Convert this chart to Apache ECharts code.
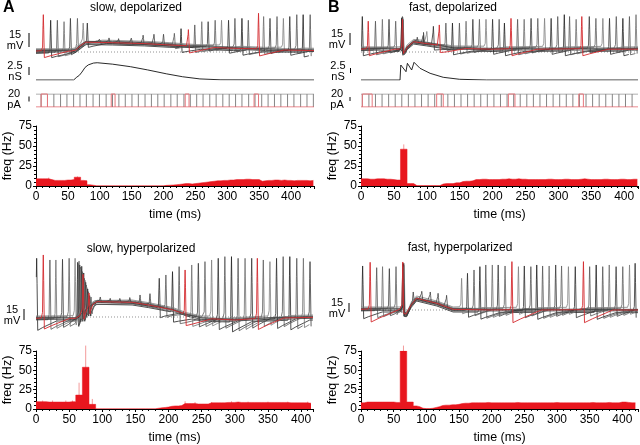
<!DOCTYPE html>
<html><head><meta charset="utf-8">
<script src="https://cdn.jsdelivr.net/npm/echarts@6/dist/echarts.min.js"></script>
<style>html,body{margin:0;padding:0;background:#fff}#c{width:640px;height:445px}</style>
</head><body><div id="c"></div><script>
// ================= DATA =================
// time-axis extents (ms)
const tMaxSD = 436, tMaxFD = 421, tMaxSH = 418, tMaxFH = 424;
const histBin = 5; // ms per histogram bin

// ---- firing-rate histograms (Hz), 5 ms bins starting at 0 ----
const histSD = [9,9,9,9,8,7,7,7,7,7.5,7.5,8,11,11,7,6.5,1.5,1,
  0.3,0.3,0.3,0.3,0.3,0.3,0.3,0.3,0.3,0.3,0.3,0.3,0.3,0.3,0.3,0.3,0.3,0.3,0.3,0.3,0.3,0.3,
  0.8,1,1.2,1.5,2,2.5,3,3,2.5,3,3.5,4,4.5,5,5.5,6,6.5,6.5,7,7,
  7.5,7.5,8,8,8,8.5,8.5,8,8,8,6,6.5,7,7,7.5,7.5,7,7.5,7,7,6.5,7,7,7,7,6.5,7];
const histFD = [9,9,8.5,8.5,9,9,9,8.5,8.5,8,7.5,7.5,46,46,3,3,0.5,0.5,0.5,0.5,0.5,0.5,0.5,0.5,
  2.5,3,3,3,4,4,5.5,6,6,6.5,
  8,8,8.5,8.5,8,8,8,8,8.5,8.5,9,8.5,8.5,9,8.5,8.5,8,8,8,8,8,8,8.5,8.5,8,8,8,8.5,8.5,8,8,8,8.5,9,8.5,8,8,8,8,8.5,8.5,8,8,8,8.5,8.5,8,8,8.5,8.5];
const histSH = [9.5,9.5,9.5,9,9,9,9,9,9,9,9.5,9.5,18,18,54,54,6,6,
  0.3,0.3,0.3,0.3,0.3,0.3,0.3,0.3,0.3,0.3,0.3,0.3,0.3,0.3,0.3,0.3,0.3,0.3,
  1,1.5,2,2.5,3.5,4,4,4.5,7,7,7,7,6.5,6.5,6.5,6.5,8,8,8,8,8,8.5,
  8.5,8.5,9,8.5,8.5,8.5,8.5,8.5,8.5,8.5,8.5,8.5,8.5,8.5,8.5,8.5,8.5,8.5,8,8,8,8,8,8,7.5];
const histFH = [8,9,9,9,9,9,9,9,9,9,8.5,8.5,75,75,9,9,4,3,1,0.5,0.5,1,2,3,4.5,5,5,5.5,5.5,6,
  7,7.5,7.5,8,8,8,8,8,8.5,8,8,8,8,8,8,8,8,8.5,8,8,8,8,8,8,8,8,8,8,8,8.5,8,8,8,8,8,8,8,8,8,8,8.5,8,8,8,8,8.5,8,8,8,9,9,8.5,8,8];
// error-bar tops [time ms, Hz]
const errSD = [[65,12],[20,10.5]];
const errFD = [[65,52]];
const errSH = [[65,34],[75,82],[85,13],[10,11],[25,11],[45,11],[55,11],[225,10],[240,9],[265,9],[295,10],[320,9.5],[350,9.5],[380,9.5],[410,9.5]];
const errFH = [[65,82]];

// ---- membrane potential: slow envelope [ms, mV re dotted line] ----
const envSD = [[0,1],[55,1],[62,2],[70,7],[78,10.5],[120,10],[170,9],[210,7.5],[250,5.5],[310,4],[360,2.5],[436,1.5]];
const envFD = [[0,3],[58,3],[61,3],[66,-1],[70,5],[80,11],[100,9],[140,4],[200,3],[421,3]];
const envSH = [[0,-2],[60,-2],[66,2],[75,10],[84,18],[92,23],[145,22],[170,18],[207,10.5],[227,3],[250,-2],[300,-4.5],[350,-2],[418,-0.5]];
const envFH = [[0,1],[60,1],[64,1],[70,-7.5],[77,8],[85,17.5],[116,10],[141,1],[200,0],[424,0]];
// spike times and peaks [ms, mV] (black/grey sweeps)
const spkSD = [[23,34],[33.5,34],[44,32.5],[54,36],[65,36],[74,31],[80.5,31],[217,20],[227.5,25],[249,29],[260,32.5],[270,32.5],[281,34],[291,34],[302,34],[312,36],[323,36],[333,34],[357,38],[367,36],[378,38],[388,36],[398,38],[409,40],[419,40],[430,40]];
const spkFD = [[2,38],[22,33],[32.5,35],[42.6,35],[52.7,33],[100,22],[110,27.5],[129,31],[139,31],[149.6,31],[159.7,33],[170,35],[180,35],[190,35],[200,35],[210,35],[218,31],[238,35],[248,35],[258.5,36],[268.7,36],[279,36],[289,36],[299,38],[309,40],[317,38],[327,35],[347,38],[357,36],[367.6,36],[377.7,36],[388,38],[398,36],[408,38],[418,40]];
const spkSH = [[1,88],[21,85.5],[30,85.5],[40,86.5],[50,88],[59,88],[186,58],[196,63],[206,68],[216,75.5],[235,78],[245,80.5],[255,83],[265,85.5],[275,88],[285,90.5],[295,90.5],[305,88],[315.5,88],[325.5,88],[343,85.5],[353,83],[363,88],[373,90.5],[383,90.5],[393.5,88],[403.5,88],[413.5,83]];
const spkFH = [[2.5,66],[24,63.5],[33,65],[43.4,62],[53.6,65],[154,47.5],[163,55],[173,60],[182,65],[191,67.5],[201,67.5],[210,67.5],[220.5,66],[241,65],[250,66],[260,65],[269,67.5],[278,66],[288,66],[298,67.5],[307,66],[317.5,65],[328,65],[350,65],[360,67.5],[370,65],[380,67.5],[390.5,65],[400.7,65],[411,67.5],[419.6,70]];
// highlighted (red) sweep spikes
const redSD = [[11.5,40],[239,24],[349,41.5]];
const redFD = [[11,33],[119,29],[228,36],[335.6,38]];
const redSH = [[11,93],[225,70.5],[334,88]];
const redFH = [[14,71.5],[231,72.5],[340.5,72.5]];
// subthreshold oscillation bumps of one sweep [ms, mV]
const oscSD = [[100,15],[115,17],[130,16],[150,17],[168,18],[185,19],[200,19]];
const oscFD = [[86,18],[95,21]];
const oscSH = [[97,30],[112,28],[127,30],[142,32],[157,33],[172,35]];
const oscFH = [[80,27],[93,28],[106,27],[118,25],[131,22]];
// synaptic event: one spike per sweep (8 grey + red) [ms, mV]
const evFD = [[62,36],[63,38],[63.5,34],[62.5,37],[64,35],[63,33],[62,36],[63.5,37],[63,35]];
const evFH = [[64,70],[65,68],[64.5,66],[65.5,70],[64,64],[66,67],[65,69],[64.5,65],[64,72]];
// burst during slow hyperpolarized event [ms, mV]
const burstSH = [[63,82],[64,80],[65,84],[66,78],[67,75],[68,72],[69,76],[70,68],[71,64],[72,66],[73,58],[74,55],[75,52],[76,48],[77,44],[78,42],[79,38],[80,36],[81,32],[83,30]];
const sweepOffsetsTop = [-2.5,-1.5,-0.5,0.5,1.5,2.5,-1,1];
const sweepOffsetsBottom = [-4,-2.5,-1,0.5,2,3.5,-1.5,1];

// ---- synaptic conductance [ms, nS] ----
const condSD = [[0,0],[59,0],[64,0.8],[68,1.3],[72,2.2],[77,3.5],[82,4.2],[90,4.7],[96,4.8],[120,4.4],[148,3.7],[175,2.8],[205,1.7],[230,0.9],[257,0.3],[290,0.05],[436,0]];
const condFD = [[0,0],[59.3,0],[60.5,7.5],[68.4,4.15],[70.5,8.35],[77,5],[80.6,8.85],[89.7,5.85],[105,3.35],[125,1.35],[150,0.35],[191,0],[421,0]];

// ---- injected current pulses (ms), amplitude (pA) ----
const pulseAmp = 50;
const pulsesSD = [8,18,28,38.5,48.5,59,69,79,89.5,99.5,110,120,130,140,150.5,160.5,171,181,191,201,211.5,221.5,232,242,252,262,272.5,282.5,293,303,313,323,333.5,343.5,354,364,374,384,394.5,404.5,415,425,435];
const pulsesFD = [2,12,22,32,42,52,62,72,82,92,102,112,122,132,142,152,162,172,182,192,202,212,222,232,242,252,262,272,282,292,302,312,322,332,342,352,362,372,382,392,402,412];
const redPulsesSD = [[8,18],[118,124],[234,240],[342,349]];
const redPulsesFD = [[2,17],[115,125],[224,234],[331,338]];

// hist axis ticks
const freqTicks = [0,25,50,75];
const timeTickStep = 50;

// ================= BUILD =================
const FONT = '"Liberation Sans", Arial, Helvetica, sans-serif';
const RED = '#e8161e', RED_TRACE = '#d42a2f', ERR = '#f39a9a';
const GREYS = ['#222','#555','#6e6e6e','#3a3a3a','#606060','#808080','#2e2e2e','#585858','#444'];

function interp(pts, t){
  if (t <= pts[0][0]) return pts[0][1];
  for (let i=1;i<pts.length;i++) if (t <= pts[i][0]) {
    const a=pts[i-1], b=pts[i]; return a[1]+(b[1]-a[1])*(t-a[0])/(b[0]-a[0]);
  }
  return pts[pts.length-1][1];
}
function buildTrace(env, off, spikes, tmax){
  const pre = 3;
  const base = tt => interp(env, tt) + off;
  const wins = spikes.map(s=>[s.t-pre, s.t+s.rec]);
  const pts = [];
  env.forEach(p=>{ if(!wins.some(w=>p[0]>w[0]&&p[0]<w[1])) pts.push([p[0], p[1]+off]); });
  spikes.forEach(s=>{
    const h = s.peak - base(s.t);
    pts.push([s.t-pre, base(s.t-pre)+0.5]);
    pts.push([s.t-1.2, base(s.t)+h*0.08+1.2]);
    pts.push([s.t-0.5, base(s.t)+h*0.7]);
    pts.push([s.t, s.peak]);
    pts.push([s.t+0.6, base(s.t)+h*0.6]);
    pts.push([s.t+1.6, base(s.t+1.6)-s.ahp]);
    pts.push([s.t+s.rec*0.3, base(s.t+s.rec*0.3)-s.ahp*0.7]);
    pts.push([s.t+s.rec, base(s.t+s.rec)]);
  });
  pts.sort((a,b)=>a[0]-b[0]);
  return pts.filter(p=>p[0]>=0 && p[0]<=tmax);
}
const mk = (list, ahp, rec) => (list||[]).map(s=>({t:s[0], peak:s[1], ahp, rec}));

const panels = [
 {letter:'A', title:'slow, depolarized', left:36, width:278, tmax:tMaxSD, env:envSD, spk:spkSD, red:redSD, osc:oscSD, ev:null, burst:null,
  offs:sweepOffsetsTop, ahp:4.5, rec:30, redAhp:7, redRec:40, vTop:10, vH:56, vMin:-15, vMax:45,
  cond:condSD, condScale:3.6, condMax:6, pulses:pulsesSD, redPulses:redPulsesSD, hist:histSD, err:errSD, hTop:126, titleX:136, titleY:8, letterY:8},
 {letter:'B', title:'fast, depolarized', left:361, width:277, tmax:tMaxFD, env:envFD, spk:spkFD, red:redFD, osc:oscFD, ev:evFD, burst:null,
  offs:sweepOffsetsTop, ahp:4.5, rec:30, redAhp:7, redRec:40, vTop:10, vH:56, vMin:-15, vMax:45,
  cond:condFD, condScale:2, condMax:11, pulses:pulsesFD, redPulses:redPulsesFD, hist:histFD, err:errFD, hTop:126, titleX:453, titleY:8, letterY:8},
 {letter:null, title:'slow, hyperpolarized', left:36, width:277, tmax:tMaxSH, env:envSH, spk:spkSH, red:redSH, osc:oscSH, ev:null, burst:burstSH,
  offs:sweepOffsetsBottom, ahp:14, rec:30, redAhp:16, redRec:40, vTop:250.3, vH:84.7, vMin:-27, vMax:100,
  cond:null, hist:histSH, err:errSH, hTop:351, titleX:141, titleY:249},
 {letter:null, title:'fast, hyperpolarized', left:361, width:277, tmax:tMaxFH, env:envFH, spk:spkFH, red:redFH, osc:oscFH, ev:evFH, burst:null,
  offs:sweepOffsetsBottom, ahp:10, rec:30, redAhp:19, redRec:45, vTop:243.3, vH:84.7, vMin:-27, vMax:100,
  cond:null, hist:histFH, err:errFH, hTop:351, titleX:460, titleY:248}
];

const grids=[], xAxes=[], yAxes=[], series=[], graphics=[];
function addGrid(left,width,top,height,xa,ya){
  grids.push({left,width,top,height});
  const gi=grids.length-1;
  xAxes.push(Object.assign({gridIndex:gi},xa));
  yAxes.push(Object.assign({gridIndex:gi},ya));
  return gi;
}
const hidX = max=>({type:'value',min:0,max,show:false});
const hidY = (min,max)=>({type:'value',min,max,show:false});
const axisCommon = {
  axisLine:{show:true,lineStyle:{color:'#000',width:1}},
  axisTick:{show:true,length:3,lineStyle:{color:'#000'}},
  minorTick:{show:true,splitNumber:5,length:2,lineStyle:{color:'#000'}},
  splitLine:{show:false},
  axisLabel:{color:'#000',fontFamily:FONT,fontSize:12}
};

panels.forEach(p=>{
  // ---- voltage sweeps ----
  const gv = addGrid(p.left,p.width,p.vTop,p.vH,hidX(p.tmax),hidY(p.vMin,p.vMax));
  series.push({type:'line',xAxisIndex:gv,yAxisIndex:gv,data:[[0,0],[p.tmax,0]],showSymbol:false,silent:true,z:1,
    lineStyle:{color:'#777',width:0.8,type:[1,2]}});
  const nS = p.offs.length;
  const sweeps = [];
  for(let k=0;k<=nS;k++) sweeps.push([]); // index nS = red
  p.spk.forEach((s,i)=>sweeps[i%nS].push({t:s[0],peak:s[1],ahp:p.ahp,rec:p.rec}));
  p.red.forEach(s=>sweeps[nS].push({t:s[0],peak:s[1],ahp:p.redAhp,rec:p.redRec}));
  if(p.ev) p.ev.forEach((s,i)=>sweeps[i].push({t:s[0],peak:s[1],ahp:p.ahp*0.6,rec:5}));
  if(p.burst) p.burst.forEach((s,i)=>sweeps[i%(nS+1)].push({t:s[0],peak:s[1],ahp:p.ahp*0.8,rec:6}));
  for(let k=0;k<nS;k++){
    series.push({type:'line',xAxisIndex:gv,yAxisIndex:gv,showSymbol:false,silent:true,z:2,
      data:buildTrace(p.env,p.offs[k],sweeps[k],p.tmax),lineStyle:{color:GREYS[k],width:0.8}});
  }
  series.push({type:'line',xAxisIndex:gv,yAxisIndex:gv,showSymbol:false,silent:true,z:2,
    data:buildTrace(p.env,0.5,mk(p.osc,1.5,9),p.tmax),lineStyle:{color:GREYS[8],width:0.8}});
  series.push({type:'line',xAxisIndex:gv,yAxisIndex:gv,showSymbol:false,silent:true,z:3,
    data:buildTrace(p.env,0,sweeps[nS],p.tmax),lineStyle:{color:RED_TRACE,width:0.9}});

  // ---- conductance + current ----
  if(p.cond){
    const gc = addGrid(p.left,p.width,80-p.condMax*p.condScale,p.condMax*p.condScale,hidX(p.tmax),hidY(0,p.condMax));
    series.push({type:'line',xAxisIndex:gc,yAxisIndex:gc,data:p.cond,showSymbol:false,silent:true,lineStyle:{color:'#111',width:0.9}});
    const gi = addGrid(p.left,p.width,94,13,hidX(p.tmax),hidY(0,pulseAmp));
    series.push({type:'line',xAxisIndex:gi,yAxisIndex:gi,data:[[0,pulseAmp],[p.tmax,pulseAmp]],showSymbol:false,silent:true,z:2,lineStyle:{color:'#8a8a8a',width:0.9}});
    series.push({type:'custom',xAxisIndex:gi,yAxisIndex:gi,silent:true,z:2,
      data:p.pulses.map(t=>[t,pulseAmp]),encode:{x:0,y:1},
      renderItem:(params,api)=>{const a=api.coord([api.value(0),0]),b=api.coord([api.value(0),api.value(1)]);
        return {type:'line',shape:{x1:a[0],y1:a[1],x2:b[0],y2:b[1]},style:{stroke:'#777',lineWidth:0.9}};}});
    series.push({type:'line',xAxisIndex:gi,yAxisIndex:gi,data:[[0,0],[p.tmax,0]],showSymbol:false,silent:true,z:3,lineStyle:{color:'#e2636a',width:1}});
    series.push({type:'custom',xAxisIndex:gi,yAxisIndex:gi,silent:true,z:4,
      data:p.redPulses.map(r=>[r[0],r[1],pulseAmp]),encode:{x:[0,1],y:2},
      renderItem:(params,api)=>{const a=api.coord([api.value(0),0]),b=api.coord([api.value(0),api.value(2)]),
        c=api.coord([api.value(1),api.value(2)]),d=api.coord([api.value(1),0]);
        return {type:'polyline',shape:{points:[a,b,c,d]},style:{stroke:'#e6757b',fill:null,lineWidth:1}};}});
  }

  // ---- histogram ----
  const gh = addGrid(p.left,p.width,p.hTop,60,
    Object.assign({type:'value',min:0,max:p.tmax,interval:timeTickStep,name:'time (ms)',nameLocation:'middle',nameGap:22,
      nameTextStyle:{color:'#000',fontFamily:FONT,fontSize:12.5}},axisCommon,
      {axisLabel:Object.assign({},axisCommon.axisLabel,{showMaxLabel:false,margin:5})}),
    Object.assign({type:'value',min:freqTicks[0],max:freqTicks[freqTicks.length-1],interval:freqTicks[1]-freqTicks[0],name:'freq (Hz)',nameLocation:'middle',nameGap:22,
      nameTextStyle:{color:'#000',fontFamily:FONT,fontSize:12.5}},axisCommon,
      {axisLabel:Object.assign({},axisCommon.axisLabel,{margin:4})}));
  series.push({type:'custom',xAxisIndex:gh,yAxisIndex:gh,silent:true,z:1,data:p.err,encode:{x:0,y:1},
    renderItem:(params,api)=>{const a=api.coord([api.value(0),0]),b=api.coord([api.value(0),api.value(1)]);
      return {type:'line',shape:{x1:a[0],y1:a[1],x2:b[0],y2:b[1]},style:{stroke:ERR,lineWidth:1}};}});
  const hd = p.hist.map((v,i)=>[i*histBin,v]);
  hd.push([Math.min(p.hist.length*histBin,p.tmax),p.hist[p.hist.length-1]]);
  series.push({type:'line',xAxisIndex:gh,yAxisIndex:gh,data:hd,step:'end',showSymbol:false,silent:true,z:2,
    lineStyle:{color:RED,width:0.5},areaStyle:{color:RED,opacity:1}});

  // ---- texts ----
  graphics.push({type:'text',x:p.titleX,y:p.titleY,style:{text:p.title,font:'12px '+FONT,fill:'#000',textAlign:'center',textVerticalAlign:'middle'}});
  if(p.letter) graphics.push({type:'text',x:p.left-33,y:p.letterY,style:{text:p.letter,font:'bold 16px '+FONT,fill:'#000',textAlign:'left',textVerticalAlign:'middle'}});
});

// scale bars (annotation)
function bar(x,y1,y2,t1,t2,lx){
  graphics.push({type:'line',shape:{x1:x,y1:y1,x2:x,y2:y2},style:{stroke:'#000',lineWidth:1}});
  graphics.push({type:'text',x:lx,y:(y1+y2)/2-5,style:{text:t1,font:'11px '+FONT,fill:'#000',textAlign:'center',textVerticalAlign:'middle'}});
  graphics.push({type:'text',x:lx,y:(y1+y2)/2+6,style:{text:t2,font:'11px '+FONT,fill:'#000',textAlign:'center',textVerticalAlign:'middle'}});
}
bar(29,33,47,'15','mV',15); bar(29,67,75,'2.5','nS',15); bar(29,96.5,101.5,'20','pA',14);
bar(350,33,45,'15','mV',337); bar(350.5,68,73,'2.5','nS',338); bar(350,97,101,'20','pA',337);
bar(24,309,320,'15','mV',12); bar(349,303,312,'15','mV',337);

const chart = echarts.init(document.getElementById('c'),null,{renderer:'canvas'});
chart.setOption({animation:false,backgroundColor:'#fff',grid:grids,xAxis:xAxes,yAxis:yAxes,series,graphic:graphics});
</script></body></html>
